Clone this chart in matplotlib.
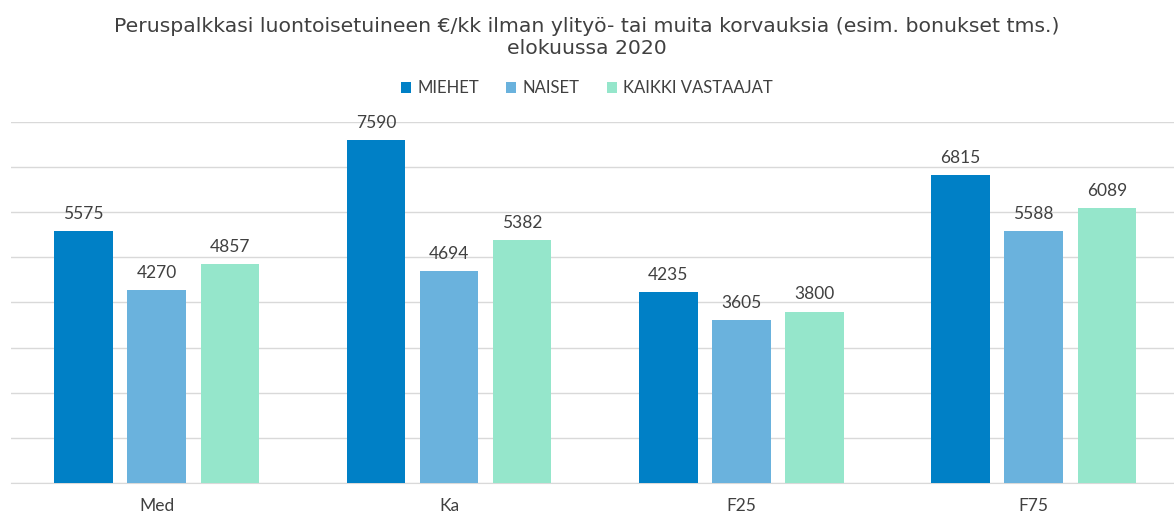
import numpy as np
import matplotlib.pyplot as plt

categories = ['Med', 'Ka', 'F25', 'F75']
series = ['MIEHET', 'NAISET', 'KAIKKI VASTAAJAT']
miehet = [5575, 7590, 4235, 6815]
naiset = [4270, 4694, 3605, 5588]
kaikki = [4857, 5382, 3800, 6089]
colors = ['#0080C6', '#6AB2DD', '#95E6CB']

plt.rcParams['font.family'] = ['Lato', 'DejaVu Sans']
txt = '#404040'

fig = plt.figure(figsize=(11.74, 5.16), dpi=100)
ax = fig.add_axes([0.009, 0.064, 0.996, 0.6996])

x = np.arange(len(categories))
for i, (name, vals) in enumerate(zip(series, [miehet, naiset, kaikki])):
    bars = ax.bar(x + (i - 1) * 0.25, vals, width=0.2, color=colors[i], label=name, zorder=3)
    for b, v in zip(bars, vals):
        ax.text(b.get_x() + b.get_width() / 2, v + 200, str(v), ha='center', va='bottom',
                fontsize=12.5, color=txt)

ax.set_xlim(-0.5, 3.5)
ax.set_ylim(0, 8000)
ax.set_yticks(range(0, 8001, 1000))
ax.yaxis.grid(True, color='#d9d9d9', linewidth=1, zorder=0)
ax.set_yticklabels([])
ax.tick_params(axis='y', length=0)
ax.tick_params(axis='x', length=0, labelsize=12.5, labelcolor=txt, pad=11)
ax.set_xticks(x)
ax.set_xticklabels(categories)
for s in ['top', 'right', 'left']:
    ax.spines[s].set_visible(False)
ax.spines['bottom'].set_color('#d9d9d9')

fig.text(0.5, 0.927, 'Peruspalkkasi luontoisetuineen €/kk ilman ylityö- tai muita korvauksia (esim. bonukset tms.)\nelokuussa 2020',
         ha='center', va='center', fontsize=14.7, color=txt, linespacing=1.22,
         family=['DejaVu Sans'])
fig.legend(loc='center', bbox_to_anchor=(0.5, 0.829), ncol=3, frameon=False, fontsize=12,
           handlelength=0.6, handleheight=0.6, columnspacing=1.6, handletextpad=0.4,
           labelcolor=txt)

fig.savefig('out.png')
